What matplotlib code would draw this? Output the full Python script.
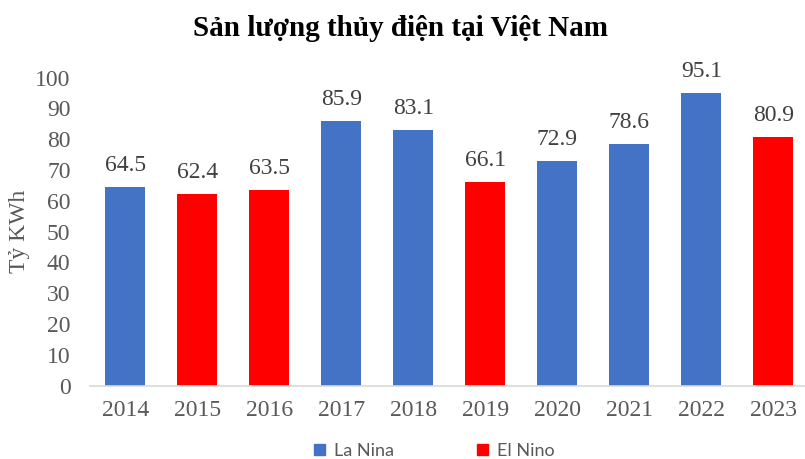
import matplotlib.pyplot as plt
from matplotlib.patches import Patch

# Sản lượng thủy điện theo năm
years = ['2014', '2015', '2016', '2017', '2018', '2019', '2020', '2021', '2022', '2023']
values = [64.5, 62.4, 63.5, 85.9, 83.1, 66.1, 72.9, 78.6, 95.1, 80.9]
phase = ['La Nina', 'El Nino', 'El Nino', 'La Nina', 'La Nina',
         'El Nino', 'La Nina', 'La Nina', 'La Nina', 'El Nino']

colors = {'La Nina': '#4472C4', 'El Nino': '#FF0000'}
serif = ['Liberation Serif', 'DejaVu Serif']

fig = plt.figure(figsize=(8.05, 4.59), dpi=100)
ax = fig.add_axes([90 / 805, 73.3 / 459, 715 / 805, 308 / 459])

x = range(len(years))
bars = ax.bar(x, values, width=0.56, color=[colors[p] for p in phase])

for b, v in zip(bars, values):
    ax.text(b.get_x() + b.get_width() / 2, v + 3.5, '%.1f' % v,
            ha='center', va='bottom', fontsize=17, color='#404040', family=serif)

ax.set_xlim(-0.49, 9.44)
ax.set_ylim(0, 100)
ax.set_yticks(range(0, 101, 10))
ax.set_xticks(list(x))
ax.set_xticklabels(years)

for s in ['top', 'right', 'left']:
    ax.spines[s].set_visible(False)
ax.spines['bottom'].set_color('#D9D9D9')
ax.spines['bottom'].set_linewidth(1.2)
ax.tick_params(axis='both', length=0, labelsize=17, labelcolor='#595959')
ax.tick_params(axis='x', pad=10)
ax.tick_params(axis='y', pad=14)
for lab in ax.get_xticklabels() + ax.get_yticklabels():
    lab.set_family(serif)

ax.set_ylabel('Tỷ KWh', fontsize=17, color='#595959', family=serif, labelpad=4)

fig.text(0.497, 0.937, 'Sản lượng thủy điện tại Việt Nam', ha='center', va='center',
         fontsize=21, fontweight='bold', family=serif)

handles = [Patch(color=colors['La Nina'], label='La Nina'),
           Patch(color=colors['El Nino'], label='El Nino')]
fig.legend(handles=handles, loc='center', bbox_to_anchor=(0.54, 0.018),
           ncol=2, frameon=False, handlelength=0.6, handleheight=0.6,
           columnspacing=4.6, handletextpad=0.5,
           prop={'family': ['Lato', 'DejaVu Sans'], 'size': 13}, labelcolor='#595959')

fig.savefig('out.png', dpi=100)
